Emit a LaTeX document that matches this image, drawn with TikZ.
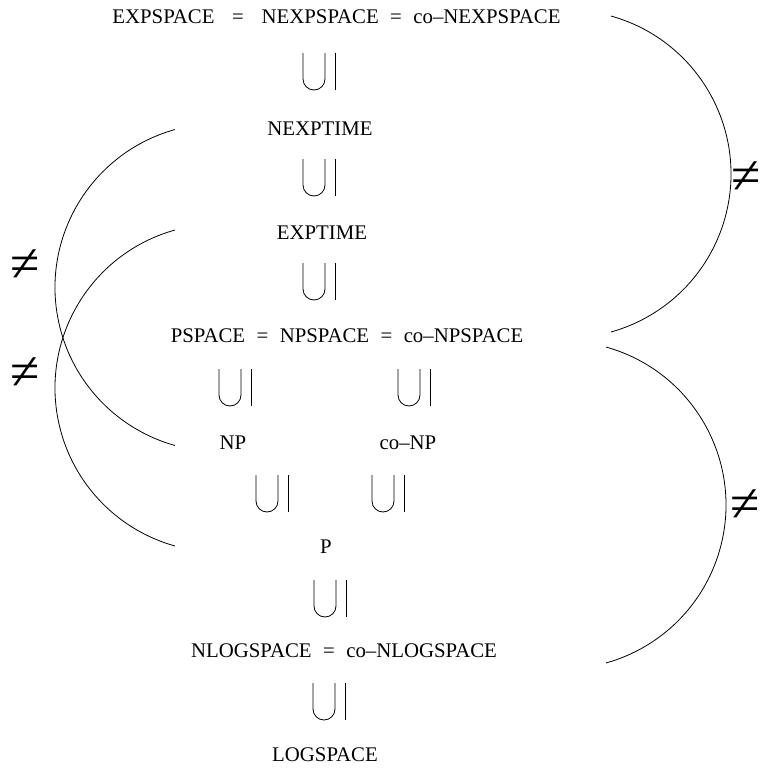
\documentclass[tikz,border=0pt]{standalone}
\usepackage{fontspec}
\setmainfont{Liberation Serif}
% gedrehtes Teilmengenzeichen: Bogen unten, Strich rechts
\newcommand{\inkl}[2]{%
	\draw (#1,#2) to ++(0,26) arc[start angle=180,end angle=0,radius=11] to ++(0,-26);
	\draw (#1+32,#2) to ++(0,37);}
\newcommand{\gl}{\hspace{0.55em}=\hspace{0.55em}}
\begin{document}
\begin{tikzpicture}[x=0.75pt,y=-0.75pt,line width=0.6pt,
		klasse/.style={anchor=base,inner sep=0pt,font=\fontsize{15.6}{18}\selectfont},
		ungl/.style={inner sep=0pt,font=\fontsize{40}{40}\selectfont}]
	\useasboundingbox (0,0) rectangle (762,775);
	% Klassen
	\node[klasse] (expspace) at (336.5,23) {EXPSPACE\hspace{0.85em}=\hspace{0.85em}NEXPSPACE\gl co–NEXPSPACE};
	\node[klasse] (nexptime) at (320,135) {NEXPTIME};
	\node[klasse] (exptime) at (322,239) {EXPTIME};
	\node[klasse] (pspace) at (347,342) {PSPACE\gl NPSPACE\gl co–NPSPACE};
	\node[klasse] (np) at (233,449) {NP};
	\node[klasse] (conp) at (408,449) {co–NP};
	\node[klasse] (p) at (326,553) {P};
	\node[klasse] (nlogspace) at (344,657) {NLOGSPACE\gl co–NLOGSPACE};
	\node[klasse] (logspace) at (325,761) {LOGSPACE};
	% Inklusionen
	\inkl{303}{53}
	\inkl{303}{159}
	\inkl{303}{263}
	\inkl{219}{369}
	\inkl{398}{369}
	\inkl{256}{475}
	\inkl{372}{475}
	\inkl{314}{580}
	\inkl{313}{683}
	% Boegen links
	\coordinate (ml1) at (219,287.5);
	\coordinate (ml2) at (219,388);
	\draw (ml1) ++(254.4:164) arc[start angle=254.4,end angle=105.6,radius=164];
	\draw (ml2) ++(254.4:164) arc[start angle=254.4,end angle=105.6,radius=164];
	% Boegen rechts
	\coordinate (mr1) at (567,174);
	\coordinate (mr2) at (562,505);
	\draw (mr1) ++(-74.4:164) arc[start angle=-74.4,end angle=74.4,radius=164];
	\draw (mr2) ++(-74.4:164) arc[start angle=-74.4,end angle=74.4,radius=164];
	\node[ungl] (ne1) at (25,266) {≠};
	\node[ungl] (ne2) at (25,374) {≠};
	\node[ungl] (ne3) at (746,178) {≠};
	\node[ungl] (ne4) at (745,506) {≠};
\end{tikzpicture}
\end{document}
